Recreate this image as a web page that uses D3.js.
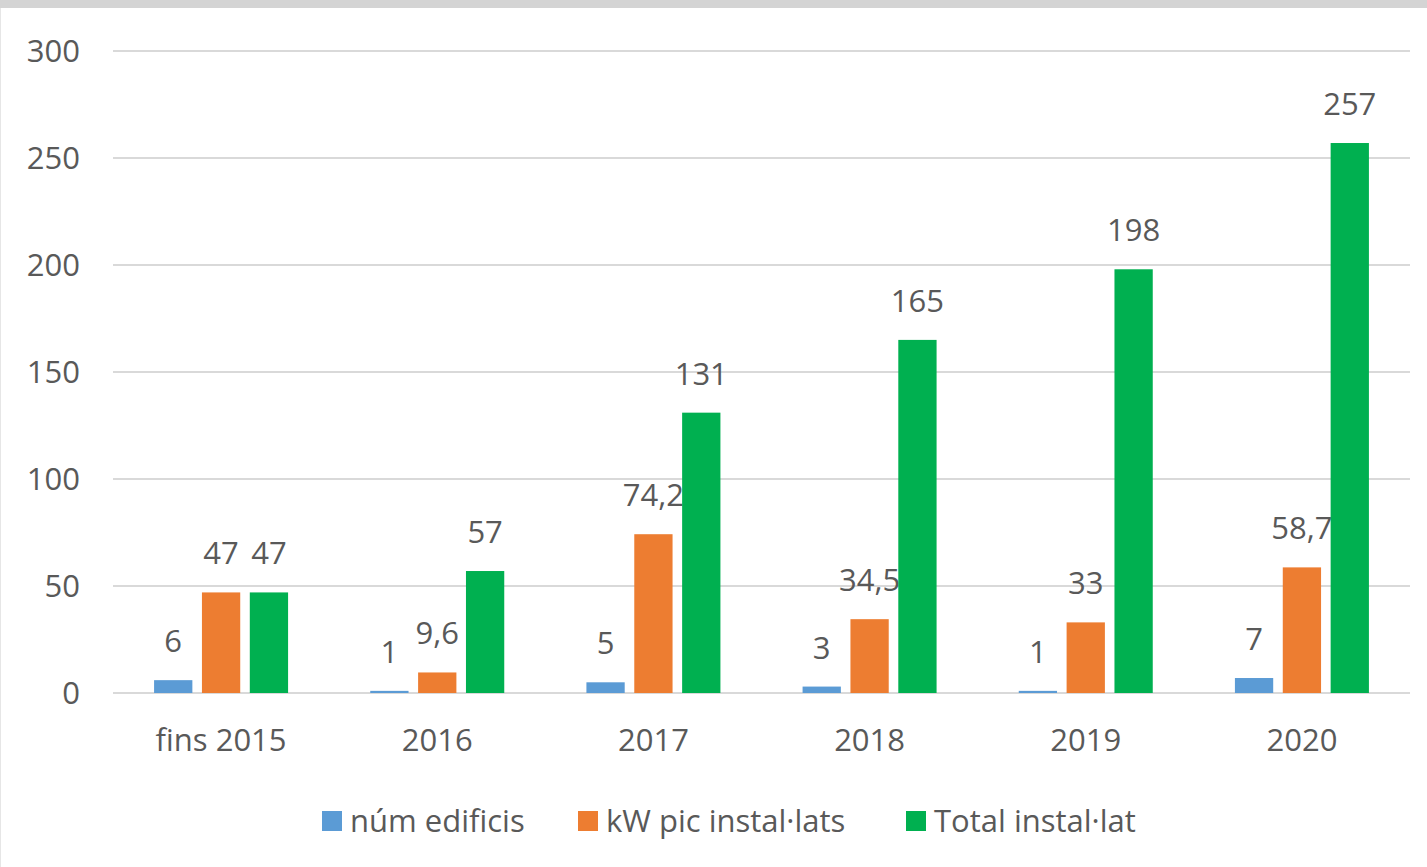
<!DOCTYPE html>
<meta charset="utf-8">
<style>
body { margin: 0; background: #fff; }
text { font-family: "Open Sans", sans-serif; fill: #595959; font-size: 31px; }
.grid line { stroke: #d9d9d9; stroke-width: 2; }
</style>
<svg width="1427" height="867"></svg>
<script src="https://d3js.org/d3.v7.min.js"></script>
<script>

var categories = ["fins 2015", "2016", "2017", "2018", "2019", "2020"];
var series = ["núm edificis", "kW pic instal·lats", "Total instal·lat"];
var numEdificis = [6, 1, 5, 3, 1, 7];
var kwPic = [47, 9.6, 74.2, 34.5, 33, 58.7];
var totalInstal = [47, 57, 131, 165, 198, 257];
var colors = ["#5b9bd5", "#ed7d31", "#00b050"];
var yTicks = [0, 50, 100, 150, 200, 250, 300];

var svg = d3.select("svg"),
    width = +svg.attr("width"),
    height = +svg.attr("height");

// grey strip from the screenshot edge
svg.append("rect")
    .attr("x", 0).attr("y", 0)
    .attr("width", width).attr("height", 8)
    .attr("fill", "#d4d4d4");
svg.append("line")
    .attr("x1", 0.5).attr("x2", 0.5).attr("y1", 8).attr("y2", height)
    .attr("stroke", "#e6e6e6");

var x0 = d3.scaleBand()
    .domain(categories)
    .range([113, 1410]);

var x1 = d3.scaleBand()
    .domain(series)
    .range([x0.bandwidth() / 2 - 67, x0.bandwidth() / 2 + 67])
    .paddingInner(0.2);

var y = d3.scaleLinear()
    .domain([0, 300])
    .range([693, 51]);

var grid = svg.append("g").attr("class", "grid");
grid.selectAll("line")
    .data(yTicks)
  .enter().append("line")
    .attr("x1", 113).attr("x2", 1410)
    .attr("y1", function(d) { return y(d); })
    .attr("y2", function(d) { return y(d); });

svg.append("g").selectAll("text")
    .data(yTicks)
  .enter().append("text")
    .attr("x", 80)
    .attr("y", function(d) { return y(d); })
    .attr("dy", "0.35em")
    .attr("text-anchor", "end")
    .text(function(d) { return d; });

svg.append("g").selectAll("text")
    .data(categories)
  .enter().append("text")
    .attr("x", function(d) { return x0(d) + x0.bandwidth() / 2; })
    .attr("y", 740)
    .attr("dy", "0.35em")
    .attr("text-anchor", "middle")
    .text(function(d) { return d; });

var rows = categories.map(function(c, i) {
  return {cat: c, values: [numEdificis[i], kwPic[i], totalInstal[i]]};
});

var fmt = function(v) { return String(v).replace(".", ","); };

// draw series by series: label then bar, so later bars cover earlier labels
series.forEach(function(s, si) {
  var g = svg.append("g");
  g.selectAll("text")
      .data(rows)
    .enter().append("text")
      .attr("x", function(d) { return x0(d.cat) + x1(s) + x1.bandwidth() / 2; })
      .attr("y", function(d) { return y(d.values[si]) - 28; })
      .attr("text-anchor", "middle")
      .text(function(d) { return fmt(d.values[si]); });
  g.selectAll("rect")
      .data(rows)
    .enter().append("rect")
      .attr("x", function(d) { return x0(d.cat) + x1(s); })
      .attr("y", function(d) { return y(d.values[si]); })
      .attr("width", x1.bandwidth())
      .attr("height", function(d) { return y(0) - y(d.values[si]); })
      .attr("fill", colors[si]);
});

// legend
var legendX = [322, 578, 906];
var legend = svg.append("g").selectAll("g")
    .data(series)
  .enter().append("g")
    .attr("transform", function(d, i) { return "translate(" + legendX[i] + ",811)"; });
legend.append("rect")
    .attr("width", 20).attr("height", 20)
    .attr("fill", function(d, i) { return colors[i]; });
legend.append("text")
    .attr("x", 28).attr("y", 10)
    .attr("dy", "0.35em")
    .text(function(d) { return d; });

</script>
